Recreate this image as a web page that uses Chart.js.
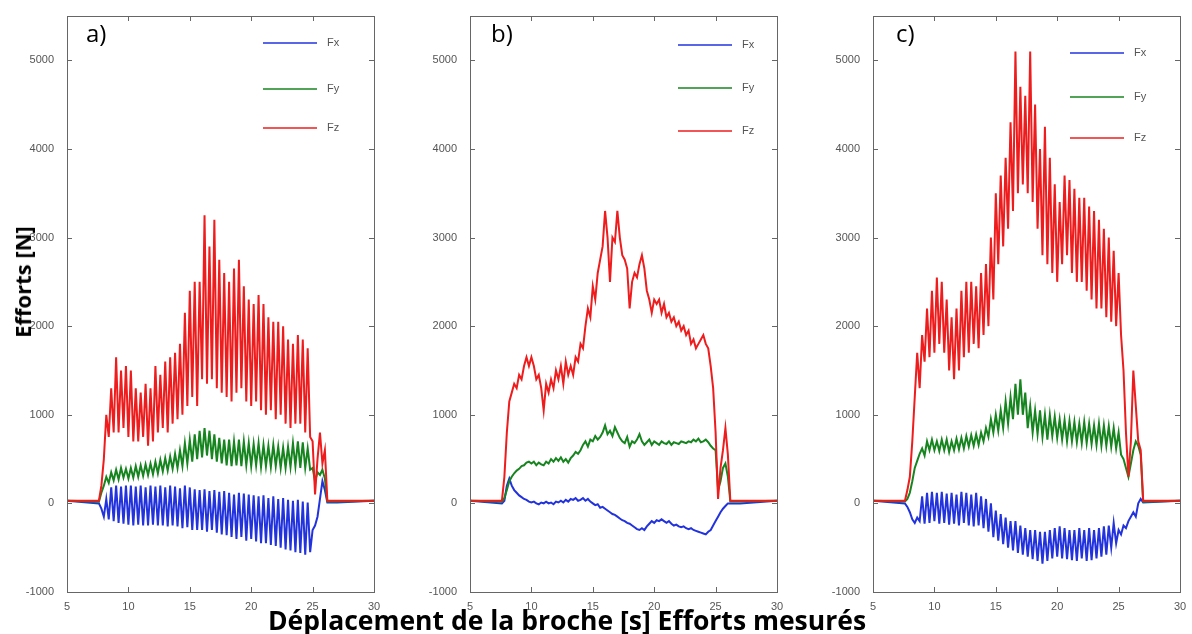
<!DOCTYPE html>
<html>
<head>
<meta charset="utf-8">
<script src="https://cdn.jsdelivr.net/npm/chart.js@4.4.1/dist/chart.umd.min.js"></script>
<style>
    body { margin: 0; background: #fff; width: 1192px; height: 634px; position: relative; overflow: hidden; font-family: "Open Sans", sans-serif; }
    canvas { position: absolute; top: 0; }
    .letter { position: absolute; top: 18px; font-size: 24px; line-height: 30px; color: #000; }
    .ytitle { position: absolute; left: 22px; top: 282px; transform: translate(-50%, -50%) rotate(-90deg); font-weight: 700; font-size: 22px; white-space: nowrap; }
    .xtitle { position: absolute; left: 268px; top: 605px; font-weight: 700; font-size: 26.5px; line-height: 30px; white-space: nowrap; }
</style>
</head>
<body>
<canvas id="chartA" width="395" height="634"></canvas>
<canvas id="chartB" width="395" height="634"></canvas>
<canvas id="chartC" width="395" height="634"></canvas>
<div class="letter" style="left:86px">a)</div>
<div class="letter" style="left:491px">b)</div>
<div class="letter" style="left:896px">c)</div>
<div class="ytitle">Efforts [N]</div>
<div class="xtitle">Déplacement de la broche [s] Efforts mesurés</div>
<script>
// sample times [s], one row per second
const time = [7.6, 7.8,
    8, 8.2, 8.4, 8.6, 8.8,
    9, 9.2, 9.4, 9.6, 9.8,
    10, 10.2, 10.4, 10.6, 10.8,
    11, 11.2, 11.4, 11.6, 11.8,
    12, 12.2, 12.4, 12.6, 12.8,
    13, 13.2, 13.4, 13.6, 13.8,
    14, 14.2, 14.4, 14.6, 14.8,
    15, 15.2, 15.4, 15.6, 15.8,
    16, 16.2, 16.4, 16.6, 16.8,
    17, 17.2, 17.4, 17.6, 17.8,
    18, 18.2, 18.4, 18.6, 18.8,
    19, 19.2, 19.4, 19.6, 19.8,
    20, 20.2, 20.4, 20.6, 20.8,
    21, 21.2, 21.4, 21.6, 21.8,
    22, 22.2, 22.4, 22.6, 22.8,
    23, 23.2, 23.4, 23.6, 23.8,
    24, 24.2, 24.4, 24.6, 24.8,
    25, 25.2, 25.4, 25.6, 25.8,
    26, 26.2, 26.4, 26.6, 26.8,
    27];

// flat level before and after the pass [N]
const baseline = 30;
const xStart = 5;
const xEnd = 30;

// a)
const fxA = [0, -60,
    -150, 50, -180, 180, -200,
    200, -220, 190, -230, 200,
    -240, 200, -250, 190, -240,
    200, -250, 180, -250, 200,
    -240, 190, -250, 200, -250,
    180, -260, 200, -250, 190,
    -260, 170, -280, 200, -270,
    180, -300, 160, -300, 150,
    -300, 160, -320, 140, -300,
    150, -330, 130, -350, 140,
    -360, 120, -380, 100, -400,
    120, -380, 110, -420, 100,
    -400, 90, -430, 80, -450,
    90, -450, 60, -470, 80,
    -480, 50, -500, 60, -520,
    40, -530, 30, -550, 40,
    -560, 20, -580, 10, -550,
    -300, -250, -150, 50, 250,
    150, 10, 10, 10, 10,
    10];
const fyA = [20, 120,
    200, 300, 230, 350, 260,
    380, 270, 400, 290, 390,
    280, 400, 290, 420, 300,
    430, 310, 440, 320, 450,
    330, 470, 340, 490, 360,
    510, 370, 530, 390, 560,
    400, 600, 420, 680, 450,
    720, 470, 780, 500, 820,
    520, 850, 540, 820, 500,
    780, 470, 740, 450, 720,
    430, 720, 420, 700, 430,
    720, 420, 700, 430, 680,
    420, 670, 430, 680, 410,
    660, 420, 650, 410, 660,
    420, 640, 400, 630, 400,
    640, 410, 680, 420, 700,
    400, 690, 400, 620, 380,
    400, 250, 350, 320, 380,
    280, 20, 20, 20, 20,
    20];
const fzA = [30, 200,
    500, 1000, 750, 1300, 800,
    1650, 800, 1500, 850, 1550,
    750, 1500, 700, 1300, 700,
    1250, 750, 1350, 650, 1300,
    700, 1550, 800, 1450, 850,
    1600, 800, 1650, 900, 1700,
    950, 1800, 1000, 2150, 1100,
    2400, 1200, 2500, 1100, 2500,
    1400, 3250, 1350, 2900, 1400,
    3200, 1300, 2750, 1250, 2600,
    1200, 2500, 1150, 2650, 1250,
    2750, 1300, 2450, 1150, 2300,
    1100, 2250, 1150, 2350, 1050,
    2250, 1000, 2100, 1050, 2050,
    950, 2050, 1000, 2000, 900,
    1850, 850, 1800, 900, 1900,
    900, 1850, 800, 1750, 750,
    700, 100, 500, 800, 450,
    600, 30, 30, 30, 30,
    30];

// b)
const fxB = [0, 30,
    200, 280, 200, 150, 120,
    90, 70, 50, 40, 20,
    10, 20, 0, -10, 10,
    0, 20, 0, 10, -10,
    20, 10, 30, 10, 40,
    20, 50, 40, 60, 30,
    40, 60, 30, 50, 20,
    0, -20, -10, -50, -40,
    -60, -80, -100, -120, -130,
    -150, -170, -190, -200, -220,
    -230, -250, -270, -290, -300,
    -280, -300, -260, -230, -200,
    -220, -190, -200, -180, -200,
    -220, -200, -230, -250, -240,
    -260, -270, -260, -280, -290,
    -280, -300, -310, -320, -330,
    -340, -350, -320, -300, -250,
    -200, -150, -100, -60, -30,
    0, 0, 0, 0, 0,
    0];
const fyB = [20, 60,
    150, 250, 300, 340, 370,
    390, 420, 430, 460, 470,
    450, 470, 430, 460, 440,
    430, 470, 450, 500, 470,
    510, 480, 520, 470, 500,
    460, 510, 540, 580, 560,
    600, 660, 700, 640, 720,
    700, 760, 720, 750, 800,
    880, 780, 820, 760, 860,
    800, 740, 700, 680, 750,
    640, 700, 680, 720, 780,
    700, 660, 690, 720, 660,
    700, 680, 660, 700, 680,
    670, 700, 660, 690, 680,
    670, 700, 690, 680, 700,
    690, 720, 700, 730, 690,
    700, 720, 690, 650, 620,
    600, 150, 250, 400, 450,
    300, 20, 20, 20, 20,
    20];
const fzB = [30, 300,
    800, 1150, 1250, 1350, 1300,
    1450, 1400, 1550, 1650, 1550,
    1650, 1550, 1400, 1450, 1300,
    1050, 1350, 1250, 1400, 1300,
    1500, 1400, 1550, 1350, 1600,
    1450, 1550, 1450, 1650, 1600,
    1800, 1750, 2000, 2200, 2100,
    2450, 2300, 2600, 2750, 2900,
    3300, 3000, 2500, 3000, 2950,
    3300, 3000, 2800, 2750, 2650,
    2200, 2500, 2600, 2550, 2700,
    2800, 2650, 2400, 2300, 2150,
    2300, 2250, 2300, 2150, 2250,
    2100, 2150, 2050, 2100, 2000,
    2050, 1950, 2000, 1900, 1950,
    1800, 1850, 1750, 1800, 1850,
    1900, 1800, 1750, 1550, 1300,
    800, 50, 400, 600, 850,
    550, 30, 30, 30, 30,
    30];

// c)
const fxC = [0, -40,
    -100, -180, -220, -160, -200,
    80, -230, 120, -220, 130,
    -200, 120, -230, 130, -220,
    110, -240, 120, -230, 100,
    -250, 130, -220, 120, -250,
    100, -260, 120, -250, 80,
    -280, 50, -320, 0, -380,
    -80, -420, -120, -460, -160,
    -500, -200, -530, -200, -560,
    -250, -580, -280, -600, -300,
    -630, -300, -650, -320, -680,
    -320, -650, -300, -620, -280,
    -600, -260, -620, -280, -630,
    -300, -640, -300, -650, -280,
    -620, -300, -650, -280, -640,
    -300, -620, -280, -600, -260,
    -580, -250, -500, -220, -450,
    -300, -350, -250, -280, -200,
    -150, -100, -150, 0, 50,
    10];
const fyC = [20, 50,
    120, 250, 400, 480, 560,
    620, 540, 700, 600, 720,
    600, 700, 590, 720, 600,
    720, 580, 700, 600, 730,
    610, 740, 620, 760, 640,
    770, 650, 780, 660, 800,
    700, 850, 750, 950, 800,
    1000, 820, 1050, 850, 1150,
    900, 1200, 950, 1350, 1000,
    1400, 1000, 1250, 850, 1100,
    800, 1050, 780, 1050, 750,
    1000, 720, 1000, 760, 980,
    740, 950, 720, 940, 700,
    930, 700, 920, 690, 900,
    680, 920, 680, 900, 670,
    880, 660, 900, 650, 880,
    650, 870, 640, 850, 620,
    800, 550, 500, 400, 300,
    450, 600, 700, 650, 550,
    20];
const fzC = [30, 150,
    300, 700, 1200, 1700, 1300,
    1900, 1600, 2200, 1650, 2400,
    1700, 2550, 1800, 2500, 1700,
    2300, 1500, 2100, 1400, 2200,
    1500, 2400, 1650, 2500, 1700,
    2500, 1800, 2450, 1750, 2600,
    1900, 2700, 2000, 3000, 2300,
    3500, 2700, 3700, 2900, 3900,
    3100, 4300, 3300, 5100, 3500,
    4700, 3600, 4600, 3500, 5100,
    3400, 4500, 3100, 4000, 2800,
    4250, 2700, 3900, 2600, 3600,
    2500, 3400, 2700, 3700, 2800,
    3650, 2600, 3550, 2500, 3450,
    2500, 3450, 2400, 3350, 2300,
    3300, 2200, 3200, 2200, 3100,
    2100, 3000, 2050, 2850, 2000,
    2600, 1900, 1500, 800, 300,
    700, 1500, 1100, 700, 600,
    30];

const xTicks = [5, 10, 15, 20, 25, 30];
const yTicks = [-1000, 0, 1000, 2000, 3000, 4000, 5000];
const seriesNames = ['Fx', 'Fy', 'Fz'];
const seriesColors = ['#2233dd', '#17851f', '#ee1c1c'];

// where each panel sits on the page, and its legend inside the box
const panels = [
    { canvasId: 'chartA', canvasLeft: 0,   legendX: 196, legendY: [27, 73, 112], series: [fxA, fyA, fzA] },
    { canvasId: 'chartB', canvasLeft: 403, legendX: 208, legendY: [29, 72, 115], series: [fxB, fyB, fzB] },
    { canvasId: 'chartC', canvasLeft: 806, legendX: 197, legendY: [37, 81, 122], series: [fxC, fyC, fzC] }
];

const toPoints = (values) => {
    const pts = [{ x: xStart, y: baseline }];
    values.forEach((v, i) => pts.push({ x: time[i], y: v }));
    pts.push({ x: xEnd, y: baseline });
    return pts;
};

// box on four sides, inward ticks and the little legend (Matlab style)
const framePlugin = {
    id: 'frame',
    afterDatasetsDraw(chart, args, opts) {
        const { ctx, chartArea: a, scales: { x, y } } = chart;
        ctx.save();
        ctx.strokeStyle = '#666';
        ctx.lineWidth = 1;
        ctx.strokeRect(a.left + 0.5, a.top + 0.5, a.width, a.height);
        ctx.beginPath();
        x.ticks.forEach(t => {
            const px = Math.round(x.getPixelForValue(t.value)) + 0.5;
            ctx.moveTo(px, a.bottom); ctx.lineTo(px, a.bottom - 5);
            ctx.moveTo(px, a.top); ctx.lineTo(px, a.top + 5);
        });
        y.ticks.forEach(t => {
            const py = Math.round(y.getPixelForValue(t.value)) + 0.5;
            ctx.moveTo(a.left, py); ctx.lineTo(a.left + 5, py);
            ctx.moveTo(a.right, py); ctx.lineTo(a.right - 5, py);
        });
        ctx.stroke();

        // legend
        ctx.font = '11px "Liberation Sans", sans-serif';
        ctx.textBaseline = 'middle';
        chart.data.datasets.forEach((ds, i) => {
            const ly = a.top + opts.legendY[i];
            const lx = a.left + opts.legendX;
            ctx.strokeStyle = ds.borderColor;
            ctx.lineWidth = 1.5;
            ctx.beginPath();
            ctx.moveTo(lx, ly); ctx.lineTo(lx + 54, ly);
            ctx.stroke();
            ctx.fillStyle = '#555';
            ctx.fillText(ds.label, lx + 64, ly);
        });
        ctx.restore();
    }
};

panels.forEach(p => {
    const ctx = document.getElementById(p.canvasId);
    ctx.style.left = p.canvasLeft + 'px';

    new Chart(ctx, {
        type: 'line',
        data: {
            datasets: p.series.map((values, i) => ({
                label: seriesNames[i],
                data: toPoints(values),
                borderColor: seriesColors[i],
                borderWidth: 2,
                pointRadius: 0,
                tension: 0,
                order: 3 - i   // Fz on top
            }))
        },
        options: {
            responsive: false,
            animation: false,
            devicePixelRatio: 1,
            layout: { padding: { left: 7, right: 21, top: 16, bottom: 24 } },
            plugins: {
                legend: { display: false },
                tooltip: { enabled: false },
                frame: { legendX: p.legendX, legendY: p.legendY }
            },
            scales: {
                x: {
                    type: 'linear',
                    min: xStart,
                    max: xEnd,
                    afterBuildTicks: (s) => { s.ticks = xTicks.map(v => ({ value: v })); },
                    afterFit: (s) => { s.height = 18; },
                    grid: { display: false },
                    border: { display: false },
                    ticks: { padding: 0, color: '#555', font: { family: 'Liberation Sans', size: 11 }, maxRotation: 0 }
                },
                y: {
                    min: -1000,
                    max: 5500,
                    afterBuildTicks: (s) => { s.ticks = yTicks.map(v => ({ value: v })); },
                    afterFit: (s) => { s.width = 60; },
                    grid: { display: false },
                    border: { display: false },
                    ticks: { padding: 5, color: '#555', font: { family: 'Liberation Sans', size: 11 }, callback: (v) => String(v) }
                }
            }
        },
        plugins: [framePlugin]
    });
});
</script>
</body>
</html>
